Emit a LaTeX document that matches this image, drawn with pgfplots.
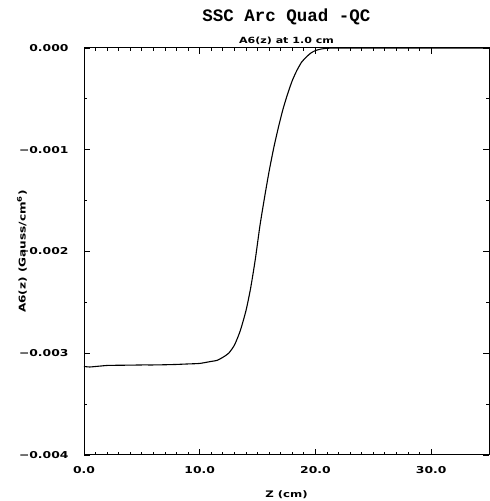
\documentclass[border=0pt]{standalone}
\usepackage{fontspec}
\usepackage{pgfplots}
\pgfplotsset{compat=1.18}
\newfontfamily\plotfont[FakeStretch=1.3]{DejaVu Sans Bold}
\newfontfamily\titlefont{Liberation Mono Bold}

\begin{document}
\begin{tikzpicture}
\begin{axis}[
  scale only axis,
  width=405pt, height=407pt,
  xmin=0, xmax=35,
  ymin=-0.004, ymax=0,
  xtick={0,10,20,30},
  ytick={-0.004,-0.003,-0.002,-0.001,0},
  yticklabels={−0.004,−0.003,−0.002,−0.001,0.000},
  minor x tick num=9,
  minor y tick num=1,
  scaled y ticks=false,
  tick align=inside,
  major tick length=6pt,
  minor tick length=3pt,
  every tick/.style={black, line width=0.8pt},
  axis line style={line width=1pt},
  /pgf/number format/assume math mode=true,
  ticklabel style={font=\plotfont\fontsize{9.5}{11}\selectfont},
  xticklabel style={/pgf/number format/fixed, /pgf/number format/fixed zerofill,
    /pgf/number format/precision=1, yshift=-8pt},
  yticklabel style={xshift=-12pt},
  clip=false,
]
\addplot[black, line width=1.1pt, smooth, tension=0.4] coordinates {
  (0,-0.00313) (0.5,-0.003135) (1,-0.00313) (1.5,-0.003125) (2,-0.00312)
  (3,-0.003118) (4,-0.003117) (5,-0.003115) (6,-0.003115) (7,-0.003113)
  (8,-0.00311) (9,-0.003105) (10,-0.0031) (11,-0.00308) (11.5,-0.00307)
  (12,-0.00304) (12.5,-0.00300) (13,-0.00292) (13.5,-0.00278) (14,-0.00258)
  (14.4,-0.00236) (14.8,-0.00208) (15.2,-0.00175) (15.6,-0.00147)
  (16.0,-0.00121) (16.4,-0.00098) (16.8,-0.00078) (17.2,-0.00060)
  (17.6,-0.00045) (18.0,-0.00032) (18.4,-0.00022) (18.8,-0.00014)
  (19.2,-0.00009) (19.6,-0.00005) (20.0,-0.000025) (20.5,-0.00001)
  (21.0,-0.000003) (22,0) (25,0) (30,0) (35,0)
};
\node[anchor=base, font=\titlefont\fontsize{17.5}{20}\selectfont]
  at (axis description cs:0.5,1) [yshift=26pt] {SSC Arc Quad -QC};
\node[anchor=base, font=\plotfont\fontsize{8.5}{10}\selectfont]
  at (axis description cs:0.5,1) [yshift=4pt] {A6(z) at 1.0 cm};
\node[anchor=base, font=\plotfont\fontsize{9}{11}\selectfont]
  at (axis description cs:0.5,0) [yshift=-42pt] {Z (cm)};
\node[rotate=90, anchor=center, font=\plotfont\fontsize{9.3}{11}\selectfont]
  at ([xshift=-62pt]axis description cs:0,0.5) {A6(z) (Gauss/cm\textsuperscript{6})};
\end{axis}
\pgfresetboundingbox
\path (current axis.south west) ++(-84pt,-46pt) rectangle (current axis.north east) ++(0pt,48pt);
\end{tikzpicture}
\end{document}
